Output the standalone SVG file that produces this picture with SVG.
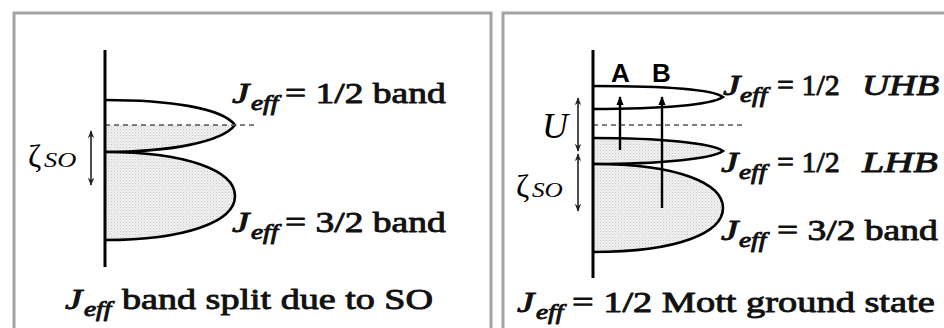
<svg xmlns="http://www.w3.org/2000/svg" width="944" height="328" viewBox="0 0 944 328">
<defs>
<pattern id="dots" width="3" height="3" patternUnits="userSpaceOnUse">
<rect width="3" height="3" fill="#f0f0f0"/>
<rect x="0" y="0" width="1" height="1" fill="#c8c8c8"/>
<rect x="1.5" y="1.5" width="1" height="1" fill="#d4d4d4"/>
</pattern>
<clipPath id="belowL"><rect x="100" y="125" width="200" height="40"/></clipPath>
<marker id="ah" viewBox="0 0 10 10" refX="9" refY="5" markerWidth="9" markerHeight="9" markerUnits="userSpaceOnUse" orient="auto-start-reverse">
<path d="M0,1 L10,5 L0,9 Z" fill="#000"/>
</marker>
<marker id="ahs" viewBox="0 0 10 10" refX="9" refY="5" markerWidth="8" markerHeight="8" markerUnits="userSpaceOnUse" orient="auto-start-reverse">
<path d="M0,1 L10,5 L0,9 L3,5 Z" fill="#222"/>
</marker>
</defs>
<style>
.frame{fill:none;stroke:#a3a3a3;stroke-width:3}
.axis{stroke:#000;stroke-width:3;fill:none}
.band{stroke:#000;stroke-width:2.6;fill:none}
.shade{fill:url(#dots);stroke:none}
.dash{stroke:#555;stroke-width:1.4;stroke-dasharray:5 4;fill:none}
.dbl{stroke:#222;stroke-width:1.6;fill:none;marker-start:url(#ahs);marker-end:url(#ahs)}
.up{stroke:#000;stroke-width:2.4;fill:none;marker-end:url(#ah)}
.b{fill:#111;stroke:#111;stroke-width:0.9;stroke-linejoin:round}
</style>

<g id="panel-left">
<rect class="frame" x="14" y="13" width="477" height="340"/>
<g id="band-left-upper">
<path class="shade" clip-path="url(#belowL)" d="M105,100 C170,100 222,108 235,125 C222,142 170,152 105,152 Z"/>
<path class="band" d="M105,100 C170,100 222,108 235,125 C222,142 170,152 105,152"/>
</g>
<g id="band-left-lower">
<path class="shade" d="M105,152 C185,152 235,170 235,196 C235,222 185,240 105,240 Z"/>
<path class="band" d="M105,152 C185,152 235,170 235,196 C235,222 185,240 105,240"/>
</g>
<line class="dash" x1="105" y1="125" x2="254" y2="125"/>
<line id="axis-left" class="axis" x1="105" y1="50" x2="105" y2="267"/>
<g id="zeta-left">
<line class="dbl" x1="91" y1="131" x2="91" y2="185"/>
<text font-family="Liberation Serif" font-size="32" x="28" y="167">ζ</text>
<text font-family="Liberation Serif" font-size="22" font-style="italic" transform="translate(44,167) scale(1.2,1)" x="0" y="0">SO</text>
</g>
<g id="lbl-left-12">
<text class="b" font-family="Liberation Serif" font-size="30" font-style="italic" transform="translate(232,103) scale(1.3,1)" x="0" y="0">J</text>
<text class="b" font-family="Liberation Serif" font-size="21" font-style="italic" transform="translate(251,110) scale(1.3,1)" x="0" y="0">eff</text>
<text class="b" font-family="Liberation Serif" font-size="30" transform="translate(285,103) scale(1.25,1)" x="0" y="0">= 1/2 band</text>
</g>
<g id="lbl-left-32">
<text class="b" font-family="Liberation Serif" font-size="30" font-style="italic" transform="translate(232,232) scale(1.3,1)" x="0" y="0">J</text>
<text class="b" font-family="Liberation Serif" font-size="21" font-style="italic" transform="translate(251,239) scale(1.3,1)" x="0" y="0">eff</text>
<text class="b" font-family="Liberation Serif" font-size="30" transform="translate(285,232) scale(1.25,1)" x="0" y="0">= 3/2 band</text>
</g>
<g id="title-left">
<text class="b" font-family="Liberation Serif" font-size="30" font-style="italic" transform="translate(65,309) scale(1.3,1)" x="0" y="0">J</text>
<text class="b" font-family="Liberation Serif" font-size="21" font-style="italic" transform="translate(84,316) scale(1.3,1)" x="0" y="0">eff</text>
<text class="b" font-family="Liberation Serif" font-size="30" transform="translate(122,309) scale(1.27,1)" x="0" y="0">band split due to SO</text>
</g>
</g>

<g id="panel-right">
<rect class="frame" x="503" y="13" width="460" height="340"/>
<g id="band-uhb">
<path class="band" d="M593,86 C660,86 712,89 723,97 C712,105 660,109 593,109"/>
</g>
<g id="band-lhb">
<path class="shade" d="M593,138 C660,138 712,143 723,151 C712,159 660,164 593,164 Z"/>
<path class="band" d="M593,138 C660,138 712,143 723,151 C712,159 660,164 593,164"/>
</g>
<g id="band-right-32">
<path class="shade" d="M593,164 C680,164 723,184 723,208 C723,232 680,252 593,252 Z"/>
<path class="band" d="M593,164 C680,164 723,184 723,208 C723,232 680,252 593,252"/>
</g>
<line class="dash" x1="593" y1="125" x2="742" y2="125"/>
<line id="axis-right" class="axis" x1="593" y1="50" x2="593" y2="278"/>
<g id="transitions">
<line id="arrow-A" class="up" x1="620" y1="150" x2="620" y2="97"/>
<line id="arrow-B" class="up" x1="662" y1="208" x2="662" y2="97"/>
<text font-family="Liberation Sans" font-size="26" font-weight="bold" x="611" y="82">A</text>
<text font-family="Liberation Sans" font-size="26" font-weight="bold" x="652" y="82">B</text>
</g>
<g id="U-gap">
<line class="dbl" x1="578" y1="98" x2="578" y2="151"/>
<text font-family="Liberation Serif" font-style="italic" font-size="36" x="542" y="138">U</text>
</g>
<g id="zeta-right">
<line class="dbl" x1="578" y1="154" x2="578" y2="211"/>
<text font-family="Liberation Serif" font-size="32" x="516" y="197">ζ</text>
<text font-family="Liberation Serif" font-size="21" font-style="italic" transform="translate(532,197) scale(1.2,1)" x="0" y="0">SO</text>
</g>
<g id="lbl-uhb">
<text class="b" font-family="Liberation Serif" font-size="30" font-style="italic" transform="translate(723,95) scale(1.3,1)" x="0" y="0">J</text>
<text class="b" font-family="Liberation Serif" font-size="21" font-style="italic" transform="translate(740,102) scale(1.3,1)" x="0" y="0">eff</text>
<text class="b" font-family="Liberation Serif" font-size="30" x="777" y="95">= 1/2</text>
<text class="b" font-family="Liberation Serif" font-size="30" font-style="italic" transform="translate(862,95) scale(1.25,1)" x="0" y="0">UHB</text>
</g>
<g id="lbl-lhb">
<text class="b" font-family="Liberation Serif" font-size="30" font-style="italic" transform="translate(721,172) scale(1.3,1)" x="0" y="0">J</text>
<text class="b" font-family="Liberation Serif" font-size="21" font-style="italic" transform="translate(739,179) scale(1.3,1)" x="0" y="0">eff</text>
<text class="b" font-family="Liberation Serif" font-size="30" x="777" y="172">= 1/2</text>
<text class="b" font-family="Liberation Serif" font-size="30" font-style="italic" transform="translate(862,172) scale(1.34,1)" x="0" y="0">LHB</text>
</g>
<g id="lbl-right-32">
<text class="b" font-family="Liberation Serif" font-size="30" font-style="italic" transform="translate(721,240) scale(1.3,1)" x="0" y="0">J</text>
<text class="b" font-family="Liberation Serif" font-size="21" font-style="italic" transform="translate(739,247) scale(1.3,1)" x="0" y="0">eff</text>
<text class="b" font-family="Liberation Serif" font-size="30" transform="translate(777,240) scale(1.25,1)" x="0" y="0">= 3/2 band</text>
</g>
<g id="title-right">
<text class="b" font-family="Liberation Serif" font-size="30" font-style="italic" transform="translate(517,312) scale(1.3,1)" x="0" y="0">J</text>
<text class="b" font-family="Liberation Serif" font-size="21" font-style="italic" transform="translate(536,319) scale(1.3,1)" x="0" y="0">eff</text>
<text class="b" font-family="Liberation Serif" font-size="30" transform="translate(572,312) scale(1.28,1)" x="0" y="0">= 1/2 Mott ground state</text>
</g>
</g>
</svg>
